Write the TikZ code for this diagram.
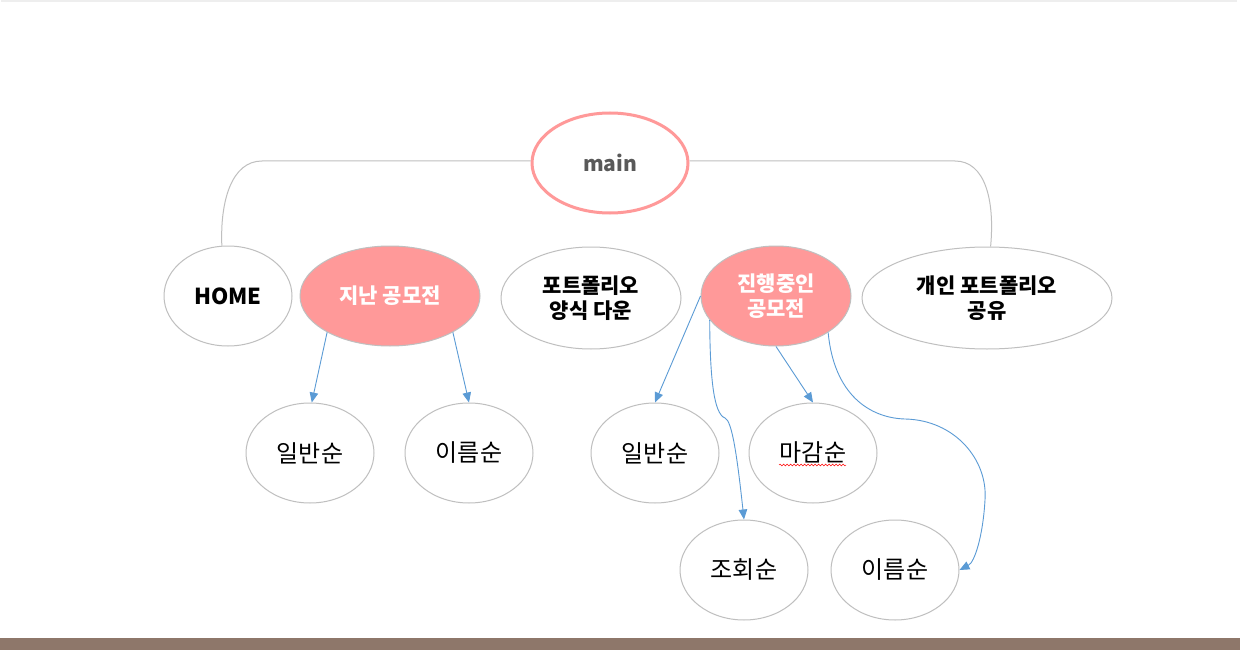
\documentclass[tikz,border=0pt]{standalone}
\usepackage{fontspec}
\setmainfont{Noto Sans CJK KR}
\newfontfamily\kr{Noto Sans CJK KR}
\usetikzlibrary{shapes.geometric,arrows.meta,decorations.pathmorphing}
\definecolor{pinkf}{HTML}{FF9999}
\definecolor{edgegray}{HTML}{BFBFBF}
\definecolor{arrowblue}{HTML}{5B9BD5}
\definecolor{maingray}{HTML}{595959}
\definecolor{barbrown}{HTML}{8E776A}
\definecolor{topline}{HTML}{EEEEEE}
\tikzset{
  oval/.style args={#1/#2}{ellipse, draw=edgegray, line width=1pt, inner sep=0pt,
    minimum width=#1pt, minimum height=#2pt, align=center},
  bigtxt/.style={font=\kr\bfseries\fontsize{21}{25}\selectfont},
  smalltxt/.style={font=\kr\fontsize{24}{28}\selectfont},
  hot/.style={fill=pinkf, text=white},
  link/.style={draw=arrowblue, line width=0.9pt, -{Triangle[length=10pt,width=8.5pt]}},
  trunk/.style={draw=edgegray, line width=1pt},
}
\begin{document}
\begin{tikzpicture}[x=1pt,y=-1pt]
\useasboundingbox (0,0) rectangle (1240,650);
\fill[white] (0,0) rectangle (1240,650);
\draw[topline, line width=1.5pt] (1,0.8) -- (1237,0.8);
\fill[barbrown] (0,638) rectangle (1240,650);

% top
\node[oval=156/100, draw=pinkf, line width=3pt, text=maingray,
      font=\kr\bfseries\fontsize{21}{24}\selectfont] (main) at (610,163) {main};

% level 1
\node[oval=128/100, bigtxt, font=\kr\bfseries\fontsize{22}{25}\selectfont] (home) at (228,296) {HOME};
\node[oval=180/100, bigtxt, hot] (past) at (390,296) {지난 공모전};
\node[oval=180/102, bigtxt] (form) at (591,298) {포트폴리오\\양식 다운};
\node[oval=150/100, bigtxt, hot] (ongo) at (776,296) {진행중인\\공모전};
\node[oval=250/102, bigtxt] (share) at (987,298) {개인 포트폴리오\\공유};

% level 2
\node[oval=128/100, smalltxt] (pgen) at (310,453) {일반순};
\node[oval=128/100, smalltxt] (pname) at (469,453) {이름순};
\node[oval=128/100, smalltxt] (ogen) at (655,453) {일반순};
\node[oval=128/100, smalltxt] (odead) at (813,453) {마감순};
\node[oval=128/100, smalltxt] (oview) at (744,570) {조회순};
\node[oval=128/100, smalltxt] (oname) at (895,570) {이름순};

% spell-check squiggle under 마감순
\draw[red, line width=0.5pt, decorate, decoration={snake, amplitude=0.9pt, segment length=3.5pt}]
  ([xshift=-34pt,yshift=-12pt]odead.center) -- ([xshift=33pt,yshift=-12pt]odead.center);

% trunk connectors
\draw[trunk] ([yshift=2pt]main.west) -- (262,161) .. controls (232,161) and (220,200) .. (home.97);
\draw[trunk] ([yshift=2pt]main.east) -- (955,161) .. controls (985,161) and (995,200) .. (share.86);

% blue arrows
\draw[link] (past.210) -- (pgen.88);
\draw[link] (past.330) -- (pname.north);
\draw[link] (ongo.west) -- (ogen.north);
\draw[link] (ongo.south) -- (odead.north);
\draw[link] (ongo.200) .. controls (710,380) and (714,414) .. (725,418)
  .. controls (732,421) and (737,455) .. (oview.north);
\draw[link] (ongo.325) .. controls (834,395) and (870,418) .. (905,419)
  .. controls (955,420) and (988,460) .. (985,500)
  .. controls (983,535) and (975,562) .. (oname.east);
\end{tikzpicture}
\end{document}
